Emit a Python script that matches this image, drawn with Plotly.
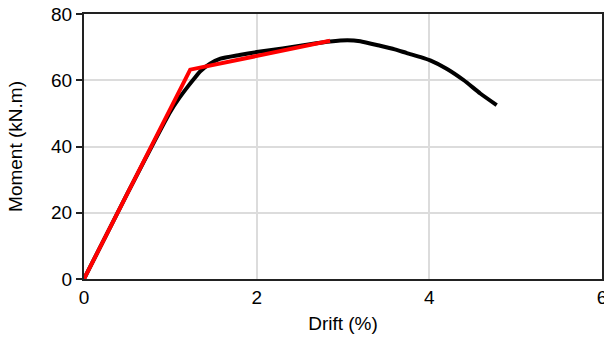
import plotly.graph_objects as go

# Experimental curve (black)
exp_drift = [0.0, 0.5, 1.0, 1.1, 1.2, 1.27, 1.35, 1.46, 1.58, 1.8, 2.0, 2.3, 2.6, 2.85, 3.05, 3.2, 3.43, 3.6, 3.74, 3.9, 4.01, 4.2, 4.4, 4.59, 4.78]
exp_moment = [0.0, 25.7, 50.5, 54.5, 58.0, 60.3, 62.8, 65.0, 66.5, 67.6, 68.5, 69.6, 70.8, 71.7, 72.1, 71.8, 70.4, 69.3, 68.2, 67.0, 66.0, 63.5, 60.0, 56.0, 52.5]

# Bilinear idealization (red)
bil_drift = [0.0, 1.23, 2.85]
bil_moment = [0.0, 63.2, 71.9]

fig = go.Figure()
fig.add_trace(go.Scatter(x=exp_drift, y=exp_moment, mode="lines",
                         line=dict(color="black", width=4, shape="spline", smoothing=0.5),
                         showlegend=False))
fig.add_trace(go.Scatter(x=bil_drift, y=bil_moment, mode="lines",
                         line=dict(color="#ff0000", width=4),
                         showlegend=False))

fig.update_layout(
    width=604, height=340,
    margin=dict(l=84, r=2, t=14, b=61),
    paper_bgcolor="white", plot_bgcolor="white",
    font=dict(family="Liberation Sans, Arial, sans-serif", color="black"),
    xaxis=dict(range=[0, 6], dtick=2, tick0=0, automargin=False,
               showgrid=True, gridcolor="#dcdcdc", gridwidth=1.5,
               zeroline=False, showline=True, linecolor="#222", linewidth=2, mirror=True,
               ticks="", tickfont=dict(size=19), ticklabeloverflow="allow",
               title=dict(text="Drift (%)", font=dict(size=19), standoff=10)),
    yaxis=dict(range=[0, 80], dtick=20, tick0=0, automargin=False,
               showgrid=True, gridcolor="#dcdcdc", gridwidth=1.5,
               zeroline=False, showline=True, linecolor="#222", linewidth=2, mirror=True,
               ticks="outside", ticklen=6, tickcolor="#222", tickwidth=1.5,
               tickfont=dict(size=19),
               title=dict(text="Moment (kN.m)", font=dict(size=19), standoff=23)),
)

fig.write_html("out.html")
